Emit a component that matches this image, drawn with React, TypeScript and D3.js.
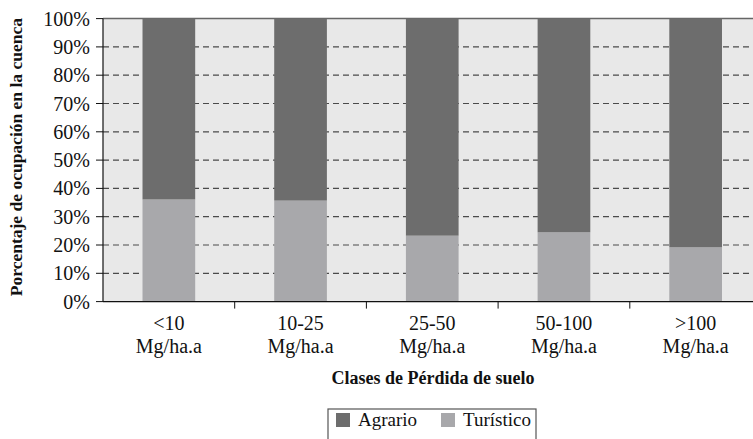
import React from 'react'
import * as d3 from 'd3'

const categories = ['<10', '10-25', '25-50', '50-100', '>100']
const turistico = [36.1, 35.7, 23.3, 24.5, 19.2]
const agrario = [63.9, 64.3, 76.7, 75.5, 80.8]
const yTicks = [0, 10, 20, 30, 40, 50, 60, 70, 80, 90, 100]
const seriesKeys = ['turistico', 'agrario']
const seriesNames: Record<string, string> = {agrario: 'Agrario', turistico: 'Turístico'}
const colors: Record<string, string> = {agrario: '#6d6d6d', turistico: '#a8a8ab'}

const W = 753
const H = 439
const left = 103
const top = 18.6
const bottom = 301.6
const step = 131.7
const serif = 'Liberation Serif'

export default function App() {
  const rows = categories.map((c, i) => ({cat: c, turistico: turistico[i], agrario: agrario[i]}))
  const x = d3.scaleBand<string>()
    .domain(categories)
    .range([left, left + step * categories.length])
    .paddingInner(0.6)
    .paddingOuter(0.3)
  const y = d3.scaleLinear().domain([0, 100]).range([bottom, top])
  const stacked = d3.stack<any>().keys(seriesKeys)(rows)

  return (
    <svg width={W} height={H} style={{position: 'absolute', left: 0, top: 0, display: 'block'}}
         fontFamily={serif}>
      <rect x={0} y={0} width={W} height={H} fill="#fff" />
      {/* plot background */}
      <rect x={left} y={y(100)} width={W - left} height={y(0) - y(100)} fill="#e8e8e8" />
      <line x1={left} x2={W} y1={y(100)} y2={y(100)} stroke="#666" strokeWidth={1.5} />

      {/* gridlines */}
      {yTicks.filter(t => t > 0 && t < 100).map(t => (
        <line key={t} x1={left} x2={W} y1={y(t)} y2={y(t)} stroke="#4a4a4a"
              strokeWidth={1.2} strokeDasharray="6,4" />
      ))}

      {/* bars */}
      {stacked.map(s => (
        <g key={s.key} fill={colors[s.key]}>
          {s.map((d, i) => (
            <rect key={i} x={x(categories[i])} y={y(d[1])} width={x.bandwidth()}
                  height={y(d[0]) - y(d[1])} />
          ))}
        </g>
      ))}

      {/* y axis */}
      <line x1={left} x2={left} y1={y(100)} y2={y(0)} stroke="#111" strokeWidth={1.2} />
      {yTicks.map(t => (
        <g key={t}>
          <line x1={left - 7} x2={left} y1={y(t)} y2={y(t)} stroke="#111" strokeWidth={1} />
          <text x={90} y={y(t)} dy="0.35em" textAnchor="end" fontSize={20} fill="#111">{t}%</text>
        </g>
      ))}

      {/* x axis */}
      <line x1={left} x2={W} y1={y(0)} y2={y(0)} stroke="#111" strokeWidth={1.2} />
      {categories.slice(1).map(c => (
        <line key={c} x1={x(c)! - x.step() * 0.3} x2={x(c)! - x.step() * 0.3}
              y1={y(0)} y2={y(0) + 7} stroke="#111" strokeWidth={1} />
      ))}
      {categories.map(c => (
        <text key={c} textAnchor="middle" fontSize={20} fill="#111">
          <tspan x={x(c)! + x.bandwidth() / 2} y={330}>{c}</tspan>
          <tspan x={x(c)! + x.bandwidth() / 2} y={353}>Mg/ha.a</tspan>
        </text>
      ))}

      {/* axis titles */}
      <text x={433} y={384} textAnchor="middle" fontSize={18} fill="#111" fontWeight="bold">
        Clases de Pérdida de suelo
      </text>
      <text transform={`translate(22, ${(y(0) + y(100)) / 2 - 3}) rotate(-90)`} textAnchor="middle"
            fontSize={17.5} fill="#111" fontWeight="bold">
        Porcentaje de ocupación en la cuenca
      </text>

      {/* legend */}
      <rect x={328} y={409} width={208} height={40} fill="#fff" stroke="#555" strokeWidth={1.2} />
      {['agrario', 'turistico'].map((k, i) => (
        <g key={k} transform={`translate(${i === 0 ? 336 : 441}, 413)`}>
          <rect width={14} height={14} fill={colors[k]} />
          <text x={22} y={13} fontSize={19} fill="#111">{seriesNames[k]}</text>
        </g>
      ))}
    </svg>
  )
}
